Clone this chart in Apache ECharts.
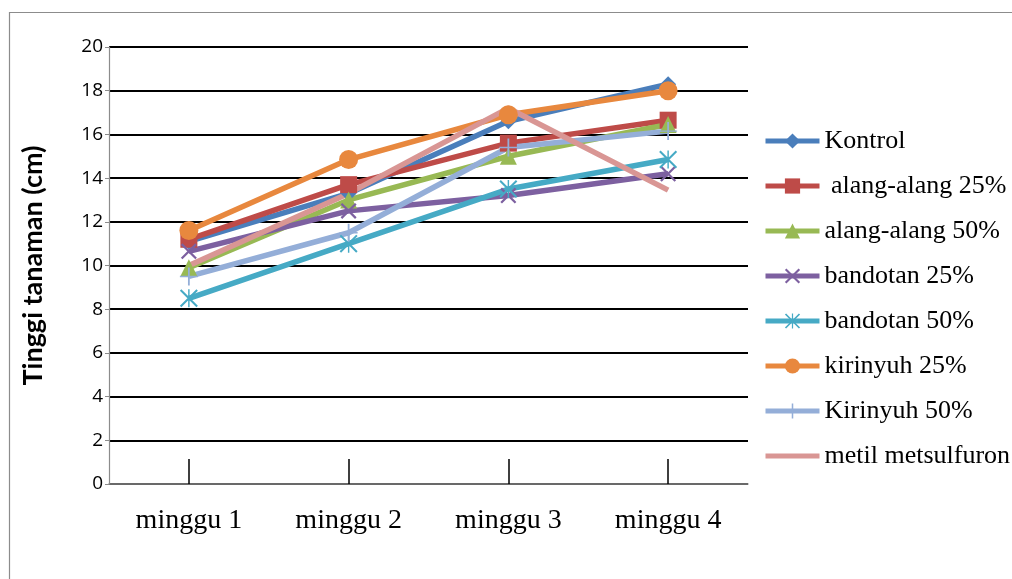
<!DOCTYPE html>
<html>
<head>
<meta charset="utf-8">
<script src="https://cdn.jsdelivr.net/npm/echarts@6/dist/echarts.min.js"></script>
<style>html,body{margin:0;padding:0;background:#fff;}#c{width:1012px;height:579px;}</style>
</head>
<body>
<div id="c"></div>
<script>
var categories = ['minggu 1', 'minggu 2', 'minggu 3', 'minggu 4'];
var yTicks = [0, 2, 4, 6, 8, 10, 12, 14, 16, 18, 20];
var kontrol = [11.1, 13.3, 16.6, 18.3];
var alang25 = [11.2, 13.7, 15.6, 16.65];
var alang50 = [9.9, 13.0, 15.0, 16.45];
var bandotan25 = [10.65, 12.5, 13.2, 14.2];
var bandotan50 = [8.5, 11.0, 13.5, 14.85];
var kirinyuh25 = [11.6, 14.85, 16.9, 18.0];
var kirinyuh50 = [9.5, 11.5, 15.4, 16.15];
var metil = [10.0, 13.3, 17.2, 13.45];
var seriesNames = ['Kontrol', ' alang-alang 25%', 'alang-alang 50%', 'bandotan 25%', 'bandotan 50%', 'kirinyuh 25%', 'Kirinyuh 50%', 'metil metsulfuron'];

var X_PATH = 'path://M0,1L1,0L10,9L9,10ZM9,0L10,1L1,10L0,9Z';
var AST_PATH = 'path://M0,0.8L0.8,0L10,9.2L9.2,10ZM9.2,0L10,0.8L0.8,10L0,9.2ZM4.6,0L5.4,0L5.4,10L4.6,10Z';
var PLUS_PATH = 'path://M4.5,0L5.5,0L5.5,10L4.5,10ZM0,4.6L10,4.6L10,5.4L0,5.4Z';
var LINE_ICON = 'path://M0,0L54,0L54,5L0,5Z';

var defs = [
  {data: kontrol, color: '#4A7EBB', symbol: 'diamond', size: 16},
  {data: alang25, color: '#BE4B48', symbol: 'rect', size: 17},
  {data: alang50, color: '#98B954', symbol: 'triangle', size: 17},
  {data: bandotan25, color: '#7D60A0', symbol: X_PATH, size: 16},
  {data: bandotan50, color: '#46AAC5', symbol: AST_PATH, size: 18},
  {data: kirinyuh25, color: '#E8883E', symbol: 'circle', size: 19},
  {data: kirinyuh50, color: '#94AED8', symbol: PLUS_PATH, size: 18},
  {data: metil, color: '#D99694', symbol: 'none', size: 0}
];

var series = defs.map(function (d, i) {
  return {
    name: seriesNames[i],
    type: 'line',
    data: d.data,
    symbol: d.symbol,
    symbolSize: d.size,
    showSymbol: d.symbol !== 'none',
    lineStyle: {color: d.color, width: 5.5},
    itemStyle: {color: d.color, borderColor: d.color, borderWidth: 0},
    animation: false
  };
});

var legendData = seriesNames.map(function (n, i) {
  return defs[i].symbol === 'none' ? {name: n, icon: LINE_ICON} : {name: n};
});

var chart = echarts.init(document.getElementById('c'), null, {renderer: 'canvas'});
chart.setOption({
  backgroundColor: '#fff',
  animation: false,
  graphic: [{
    type: 'rect', left: 7, top: 10, shape: {width: 1100, height: 700},
    style: {fill: 'none', stroke: '#8c8c8c', lineWidth: 1.2}, silent: true
  }],
  grid: {left: 109, right: 264, top: 47, bottom: 95},
  legend: {
    orient: 'vertical', left: 758, top: 123,
    itemWidth: 54, itemHeight: 19, itemGap: 19,
    symbolKeepAspect: true,
    lineStyle: {width: 5},
    textStyle: {fontFamily: 'Liberation Serif', fontSize: 26, color: '#000'},
    data: legendData
  },
  xAxis: {
    type: 'category', data: categories, boundaryGap: true,
    axisLine: {lineStyle: {color: '#8c8c8c', width: 1.5}},
    axisTick: {show: true, inside: true, alignWithLabel: true, length: 25, lineStyle: {color: '#000', width: 1.5}},
    axisLabel: {fontFamily: 'Liberation Serif', fontSize: 28, color: '#000', margin: 23}
  },
  yAxis: {
    type: 'value', min: yTicks[0], max: yTicks[yTicks.length - 1], interval: yTicks[1] - yTicks[0],
    name: 'Tinggi tanaman (cm)', nameLocation: 'middle', nameGap: 62, nameRotate: 90,
    nameTextStyle: {fontFamily: 'Lato', fontWeight: 'bold', fontSize: 27, color: '#000'},
    axisLine: {show: true, lineStyle: {color: '#8c8c8c', width: 1.2}},
    axisTick: {show: true, length: 4, lineStyle: {color: '#8c8c8c'}},
    axisLabel: {fontFamily: 'Open Sans', fontSize: 19, color: '#000', margin: 6},
    splitLine: {show: true, lineStyle: {color: '#000', width: 2}}
  },
  series: series
});
</script>
</body>
</html>
